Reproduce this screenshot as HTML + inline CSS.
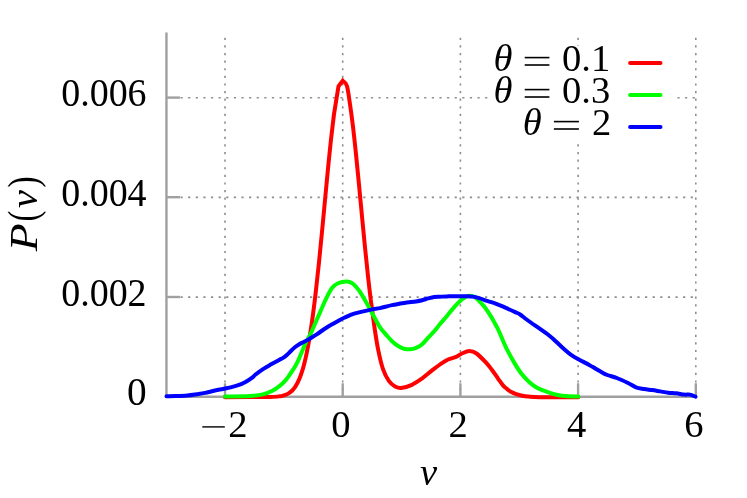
<!DOCTYPE html><html><head><meta charset="utf-8"><style>html,body{margin:0;padding:0;background:#fff}svg{display:block;will-change:transform}</style></head><body><svg width="747" height="498" viewBox="0 0 747 498">
<rect width="100%" height="100%" fill="#fff"/>
<line x1="225.00" y1="37.70" x2="225.00" y2="396.75" stroke="#8e8e8e" stroke-width="1.6" stroke-dasharray="2.200 5.415"/>
<line x1="342.70" y1="37.70" x2="342.70" y2="396.75" stroke="#8e8e8e" stroke-width="1.6" stroke-dasharray="2.200 5.415"/>
<line x1="460.40" y1="37.70" x2="460.40" y2="396.75" stroke="#8e8e8e" stroke-width="1.6" stroke-dasharray="2.200 5.415"/>
<line x1="578.10" y1="37.70" x2="578.10" y2="396.75" stroke="#8e8e8e" stroke-width="1.6" stroke-dasharray="2.200 5.415"/>
<line x1="695.80" y1="37.70" x2="695.80" y2="396.75" stroke="#8e8e8e" stroke-width="1.6" stroke-dasharray="2.200 5.415"/>
<line x1="180.50" y1="97.75" x2="489.00" y2="97.75" stroke="#8e8e8e" stroke-width="1.6" stroke-dasharray="2.200 5.415"/>
<line x1="180.50" y1="197.35" x2="695.80" y2="197.35" stroke="#8e8e8e" stroke-width="1.6" stroke-dasharray="2.200 5.415"/>
<line x1="180.50" y1="297.15" x2="695.80" y2="297.15" stroke="#8e8e8e" stroke-width="1.6" stroke-dasharray="2.200 5.415"/>
<rect x="490" y="45.9" width="185.5" height="96.6" fill="#fff"/>
<line x1="677.40" y1="97.75" x2="695.80" y2="97.75" stroke="#8e8e8e" stroke-width="1.6" stroke-dasharray="2.200 5.415"/>
<path d="M166.45,32.60 L166.45,396.75 L695.80,396.75" fill="none" stroke="#a0a0a0" stroke-width="2.4" stroke-linejoin="miter"/>
<line x1="225.00" y1="396.75" x2="225.00" y2="383.25" stroke="#a0a0a0" stroke-width="2.4"/>
<line x1="342.70" y1="396.75" x2="342.70" y2="383.25" stroke="#a0a0a0" stroke-width="2.4"/>
<line x1="460.40" y1="396.75" x2="460.40" y2="383.25" stroke="#a0a0a0" stroke-width="2.4"/>
<line x1="578.10" y1="396.75" x2="578.10" y2="383.25" stroke="#a0a0a0" stroke-width="2.4"/>
<line x1="695.80" y1="396.75" x2="695.80" y2="383.25" stroke="#a0a0a0" stroke-width="2.4"/>
<line x1="166.45" y1="97.60" x2="179.95" y2="97.60" stroke="#a0a0a0" stroke-width="2.4"/>
<line x1="166.45" y1="197.20" x2="179.95" y2="197.20" stroke="#a0a0a0" stroke-width="2.4"/>
<line x1="166.45" y1="297.00" x2="179.95" y2="297.00" stroke="#a0a0a0" stroke-width="2.4"/>
<path d="M225.00,397.20 C232.50,397.15 260.83,397.06 270.00,396.90 C279.17,396.74 277.83,396.43 280.00,396.21 C282.17,396.00 282.00,395.88 283.00,395.62 C284.00,395.36 285.00,395.07 286.00,394.65 C287.00,394.23 288.00,393.76 289.00,393.11 C290.00,392.45 291.00,391.71 292.00,390.72 C293.00,389.73 294.00,388.61 295.00,387.15 C296.00,385.68 297.00,384.04 298.00,381.96 C299.00,379.87 300.00,377.53 301.00,374.66 C302.00,371.78 303.00,368.55 304.00,364.71 C305.00,360.87 306.00,356.57 307.00,351.61 C308.00,346.64 309.00,341.12 310.00,334.91 C311.00,328.71 312.00,321.86 313.00,314.38 C314.00,306.90 315.00,298.72 316.00,290.04 C317.00,281.36 318.00,271.97 319.00,262.28 C320.00,252.59 321.00,242.26 322.00,231.91 C323.00,221.56 324.00,210.71 325.00,200.17 C326.00,189.64 327.00,178.83 328.00,168.70 C329.00,158.56 330.50,144.25 331.00,139.36 L331.00,139.36 L334.00,114.14 L338.50,86.20 L342.70,80.80 L342.70,80.80 C343.40,81.63 345.68,81.88 346.90,85.80 C348.12,89.72 348.98,97.47 350.00,104.30 C351.02,111.13 352.00,118.44 353.00,126.76 C354.00,135.08 355.00,144.55 356.00,154.21 C357.00,163.87 358.00,174.37 359.00,184.73 C360.00,195.08 361.00,205.92 362.00,216.36 C363.00,226.79 364.00,237.36 365.00,247.34 C366.00,257.32 367.00,267.12 368.00,276.24 C369.00,285.36 370.43,297.41 371.00,302.05 C371.57,306.69 370.80,299.74 371.40,304.10 C372.00,308.46 373.47,320.57 374.60,328.20 C375.73,335.83 376.80,343.07 378.20,349.90 C379.60,356.73 381.20,363.98 383.00,369.20 C384.80,374.42 386.98,378.32 389.00,381.20 C391.02,384.08 393.08,385.37 395.10,386.50 C397.12,387.63 398.30,388.28 401.10,388.00 C403.90,387.72 408.48,386.33 411.90,384.80 C415.32,383.27 418.38,381.08 421.60,378.80 C424.82,376.52 428.00,373.58 431.20,371.10 C434.40,368.62 437.98,365.83 440.80,363.90 C443.62,361.97 445.57,360.67 448.10,359.50 C450.63,358.33 453.68,357.90 456.00,356.90 C458.32,355.90 459.78,354.47 462.00,353.50 C464.22,352.53 466.88,351.10 469.30,351.10 C471.72,351.10 473.70,351.57 476.50,353.50 C479.30,355.43 483.48,359.90 486.10,362.70 C488.72,365.50 490.18,367.62 492.20,370.30 C494.22,372.98 496.40,376.28 498.20,378.80 C500.00,381.32 501.60,383.77 503.00,385.40 C504.40,387.03 505.20,387.50 506.60,388.60 C508.00,389.70 509.78,391.07 511.40,392.00 C513.02,392.93 514.48,393.57 516.30,394.20 C518.12,394.83 520.30,395.40 522.30,395.80 C524.30,396.20 525.35,396.37 528.30,396.60 C531.25,396.83 531.67,397.10 540.00,397.20 C548.33,397.30 571.92,397.20 578.30,397.20" fill="none" stroke="#ff0000" stroke-width="4.0" stroke-linejoin="miter" stroke-linecap="round"/>
<path d="M225.00,396.60 C229.17,396.52 243.70,396.47 250.00,396.10 C256.30,395.73 259.07,395.28 262.80,394.40 C266.53,393.52 269.53,392.27 272.40,390.80 C275.27,389.33 277.85,387.30 280.00,385.60 C282.15,383.90 283.72,382.37 285.30,380.60 C286.88,378.83 287.85,377.38 289.50,375.00 C291.15,372.62 293.58,369.08 295.20,366.30 C296.82,363.52 297.87,361.23 299.20,358.30 C300.53,355.37 302.00,351.52 303.20,348.70 C304.40,345.88 305.33,343.55 306.40,341.40 C307.47,339.25 308.70,337.50 309.60,335.80 C310.50,334.10 310.43,334.27 311.80,331.20 C313.17,328.13 316.43,320.53 317.80,317.40 C319.17,314.27 319.30,314.00 320.00,312.40 C320.70,310.80 321.00,310.05 322.00,307.80 C323.00,305.55 324.33,302.18 326.00,298.90 C327.67,295.62 329.98,290.70 332.00,288.10 C334.02,285.50 335.68,284.42 338.10,283.30 C340.52,282.18 344.10,281.38 346.50,281.40 C348.90,281.42 350.48,281.98 352.50,283.40 C354.52,284.82 356.58,287.22 358.60,289.90 C360.62,292.58 362.80,296.48 364.60,299.50 C366.40,302.52 367.80,305.08 369.40,308.00 C371.00,310.92 372.43,313.78 374.20,317.00 C375.97,320.22 378.03,324.37 380.00,327.30 C381.97,330.23 384.00,332.28 386.00,334.60 C388.00,336.92 389.98,339.30 392.00,341.20 C394.02,343.10 396.08,344.75 398.10,346.00 C400.12,347.25 402.10,348.15 404.10,348.70 C406.10,349.25 408.10,349.45 410.10,349.30 C412.10,349.15 414.08,348.65 416.10,347.80 C418.12,346.95 420.18,345.90 422.20,344.20 C424.22,342.50 426.20,339.75 428.20,337.60 C430.20,335.45 432.20,333.60 434.20,331.30 C436.20,329.00 438.18,326.22 440.20,323.80 C442.22,321.38 443.82,319.75 446.30,316.80 C448.78,313.85 452.57,308.95 455.10,306.10 C457.63,303.25 459.63,301.28 461.50,299.70 C463.37,298.12 464.83,297.25 466.30,296.60 C467.77,295.95 468.95,295.75 470.30,295.80 C471.65,295.85 472.92,296.02 474.40,296.90 C475.88,297.78 477.47,299.37 479.20,301.10 C480.93,302.83 482.80,304.67 484.80,307.30 C486.80,309.93 489.53,314.25 491.20,316.90 C492.87,319.55 493.60,321.02 494.80,323.20 C496.00,325.38 497.00,327.00 498.40,330.00 C499.80,333.00 501.73,337.88 503.20,341.20 C504.67,344.52 505.32,346.25 507.20,349.90 C509.08,353.55 512.08,359.08 514.50,363.10 C516.92,367.12 519.30,370.90 521.70,374.00 C524.10,377.10 526.50,379.50 528.90,381.70 C531.30,383.90 533.28,385.60 536.10,387.20 C538.92,388.80 542.58,390.08 545.80,391.30 C549.02,392.52 552.18,393.70 555.40,394.50 C558.62,395.30 561.28,395.75 565.10,396.10 C568.92,396.45 576.10,396.52 578.30,396.60" fill="none" stroke="#00ff00" stroke-width="4.0" stroke-linejoin="round" stroke-linecap="round"/>
<path d="M166.50,396.20 C168.10,396.18 172.63,396.22 176.10,396.10 C179.57,395.98 183.82,395.82 187.30,395.50 C190.78,395.18 194.05,394.63 197.00,394.20 C199.95,393.77 202.00,393.52 205.00,392.90 C208.00,392.28 211.65,391.23 215.00,390.50 C218.35,389.77 221.75,389.23 225.10,388.50 C228.45,387.77 232.43,386.83 235.10,386.10 C237.77,385.37 239.15,384.90 241.10,384.10 C243.05,383.30 244.78,382.50 246.80,381.30 C248.82,380.10 251.83,377.95 253.20,376.90 C254.57,375.85 253.37,376.30 255.00,375.00 C256.63,373.70 260.32,370.88 263.00,369.10 C265.68,367.32 268.42,365.83 271.10,364.30 C273.78,362.77 277.10,360.97 279.10,359.90 C281.10,358.83 281.77,358.77 283.10,357.90 C284.43,357.03 285.77,355.90 287.10,354.70 C288.43,353.50 289.75,351.98 291.10,350.70 C292.45,349.42 293.85,348.08 295.20,347.00 C296.55,345.92 297.87,345.00 299.20,344.20 C300.53,343.40 301.87,342.87 303.20,342.20 C304.53,341.53 305.87,340.93 307.20,340.20 C308.53,339.47 309.55,338.82 311.20,337.80 C312.85,336.78 314.77,335.65 317.10,334.10 C319.43,332.55 322.52,330.23 325.20,328.50 C327.88,326.77 330.53,325.25 333.20,323.70 C335.87,322.15 339.23,320.25 341.20,319.20 C343.17,318.15 342.85,318.32 345.00,317.40 C347.15,316.48 349.77,315.00 354.10,313.70 C358.43,312.40 366.68,310.53 371.00,309.60 C375.32,308.67 376.50,308.85 380.00,308.10 C383.50,307.35 387.98,305.95 392.00,305.10 C396.02,304.25 400.08,303.62 404.10,303.00 C408.12,302.38 413.08,301.87 416.10,301.40 C419.12,300.93 420.18,300.70 422.20,300.20 C424.22,299.70 426.20,298.93 428.20,298.40 C430.20,297.87 432.20,297.28 434.20,297.00 C436.20,296.72 438.07,296.80 440.20,296.70 C442.33,296.60 444.52,296.48 447.00,296.40 C449.48,296.32 451.75,296.23 455.10,296.20 C458.45,296.17 464.15,296.13 467.10,296.20 C470.05,296.27 470.78,296.27 472.80,296.60 C474.82,296.93 476.80,297.48 479.20,298.20 C481.60,298.92 484.57,300.03 487.20,300.90 C489.83,301.77 492.33,302.43 495.00,303.40 C497.67,304.37 499.83,305.25 503.20,306.70 C506.57,308.15 512.38,310.80 515.20,312.10 C518.02,313.40 518.08,313.18 520.10,314.50 C522.12,315.82 524.10,317.68 527.30,320.00 C530.50,322.32 536.35,326.33 539.30,328.40 C542.25,330.47 543.72,331.50 545.00,332.40 C546.28,333.30 545.67,332.73 547.00,333.80 C548.33,334.87 550.98,337.02 553.00,338.80 C555.02,340.58 557.08,342.63 559.10,344.50 C561.12,346.37 563.10,348.27 565.10,350.00 C567.10,351.73 568.88,353.35 571.10,354.90 C573.32,356.45 575.38,357.63 578.40,359.30 C581.42,360.97 586.40,363.38 589.20,364.90 C592.00,366.42 593.18,367.22 595.20,368.40 C597.22,369.58 599.28,370.90 601.30,372.00 C603.32,373.10 604.70,374.00 607.30,375.00 C609.90,376.00 613.45,376.67 616.90,378.00 C620.35,379.33 624.82,381.45 628.00,383.00 C631.18,384.55 633.32,386.30 636.00,387.30 C638.68,388.30 641.42,388.53 644.10,389.00 C646.78,389.47 649.42,389.70 652.10,390.10 C654.78,390.50 657.52,390.97 660.20,391.40 C662.88,391.83 665.53,392.38 668.20,392.70 C670.87,393.02 673.52,392.98 676.20,393.30 C678.88,393.62 682.02,394.38 684.30,394.60 C686.58,394.82 688.03,394.25 689.90,394.60 C691.77,394.95 694.57,396.35 695.50,396.70" fill="none" stroke="#0000ff" stroke-width="4.0" stroke-linejoin="round" stroke-linecap="round"/>
<line x1="630.1" y1="62.9" x2="660.5" y2="62.9" stroke="#ff0000" stroke-width="4.0" stroke-linecap="round"/>
<line x1="630.1" y1="95.0" x2="660.5" y2="95.0" stroke="#00ff00" stroke-width="4.0" stroke-linecap="round"/>
<line x1="630.1" y1="127.1" x2="660.5" y2="127.1" stroke="#0000ff" stroke-width="4.0" stroke-linecap="round"/>
<text x="146.6" y="106.1" text-anchor="end" textLength="85.4" lengthAdjust="spacingAndGlyphs" font-family="Liberation Serif, serif" font-size="39.3" fill="#000">0.006</text>
<text x="146.6" y="205.7" text-anchor="end" textLength="85.4" lengthAdjust="spacingAndGlyphs" font-family="Liberation Serif, serif" font-size="39.3" fill="#000">0.004</text>
<text x="146.6" y="305.5" text-anchor="end" textLength="85.4" lengthAdjust="spacingAndGlyphs" font-family="Liberation Serif, serif" font-size="39.3" fill="#000">0.002</text>
<text x="146.6" y="405.2" text-anchor="end" font-family="Liberation Serif, serif" font-size="39.3" fill="#000">0</text>
<line x1="202.3" y1="426.9" x2="224.8" y2="426.9" stroke="#000" stroke-width="1.4"/>
<text x="237.9" y="436.5" text-anchor="middle" font-family="Liberation Serif, serif" font-size="38.6" fill="#000">2</text>
<text x="340.9" y="436.5" text-anchor="middle" font-family="Liberation Serif, serif" font-size="38.6" fill="#000">0</text>
<text x="458.2" y="436.5" text-anchor="middle" font-family="Liberation Serif, serif" font-size="38.6" fill="#000">2</text>
<text x="576.7" y="436.5" text-anchor="middle" font-family="Liberation Serif, serif" font-size="38.6" fill="#000">4</text>
<text x="693.9" y="436.5" text-anchor="middle" font-family="Liberation Serif, serif" font-size="38.6" fill="#000">6</text>
<text x="420" y="485" font-style="italic" font-family="Liberation Serif, serif" font-size="38.6" fill="#000">v</text>
<g transform="translate(36.7,251.3) rotate(-90)"><text transform="translate(0.00,0) scale(1.180,1.050)" x="0" y="0" font-style="italic" font-family="Liberation Serif, serif" font-size="38.6" fill="#000">P</text><text transform="translate(29.90,0) scale(0.850,1.106)" x="0" y="0"  font-family="Liberation Serif, serif" font-size="38.6" fill="#000">(</text><text transform="translate(43.25,0) scale(1.050,1.000)" x="0" y="0" font-style="italic" font-family="Liberation Serif, serif" font-size="38.6" fill="#000">v</text><text transform="translate(63.80,0) scale(0.870,1.106)" x="0" y="0"  font-family="Liberation Serif, serif" font-size="38.6" fill="#000">)</text></g>
<text x="610.3" y="70.8" text-anchor="end" font-family="Liberation Serif, serif" font-size="38.6" fill="#000">0.1</text>
<line x1="524.7" y1="57.6" x2="549.4" y2="57.6" stroke="#000" stroke-width="1.6"/>
<line x1="524.7" y1="65.0" x2="549.4" y2="65.0" stroke="#000" stroke-width="1.6"/>
<text x="512.4" y="70.8" text-anchor="end" font-style="italic" font-family="Liberation Serif, serif" font-size="38.6" fill="#000">θ</text>
<text x="610.3" y="102.8" text-anchor="end" font-family="Liberation Serif, serif" font-size="38.6" fill="#000">0.3</text>
<line x1="524.7" y1="89.6" x2="549.4" y2="89.6" stroke="#000" stroke-width="1.6"/>
<line x1="524.7" y1="97.0" x2="549.4" y2="97.0" stroke="#000" stroke-width="1.6"/>
<text x="512.4" y="102.8" text-anchor="end" font-style="italic" font-family="Liberation Serif, serif" font-size="38.6" fill="#000">θ</text>
<text x="611.3" y="134.8" text-anchor="end" font-family="Liberation Serif, serif" font-size="38.6" fill="#000">2</text>
<line x1="553.9" y1="121.6" x2="578.9" y2="121.6" stroke="#000" stroke-width="1.6"/>
<line x1="553.9" y1="129.0" x2="578.9" y2="129.0" stroke="#000" stroke-width="1.6"/>
<text x="541.6" y="134.8" text-anchor="end" font-style="italic" font-family="Liberation Serif, serif" font-size="38.6" fill="#000">θ</text>
</svg></body></html>
